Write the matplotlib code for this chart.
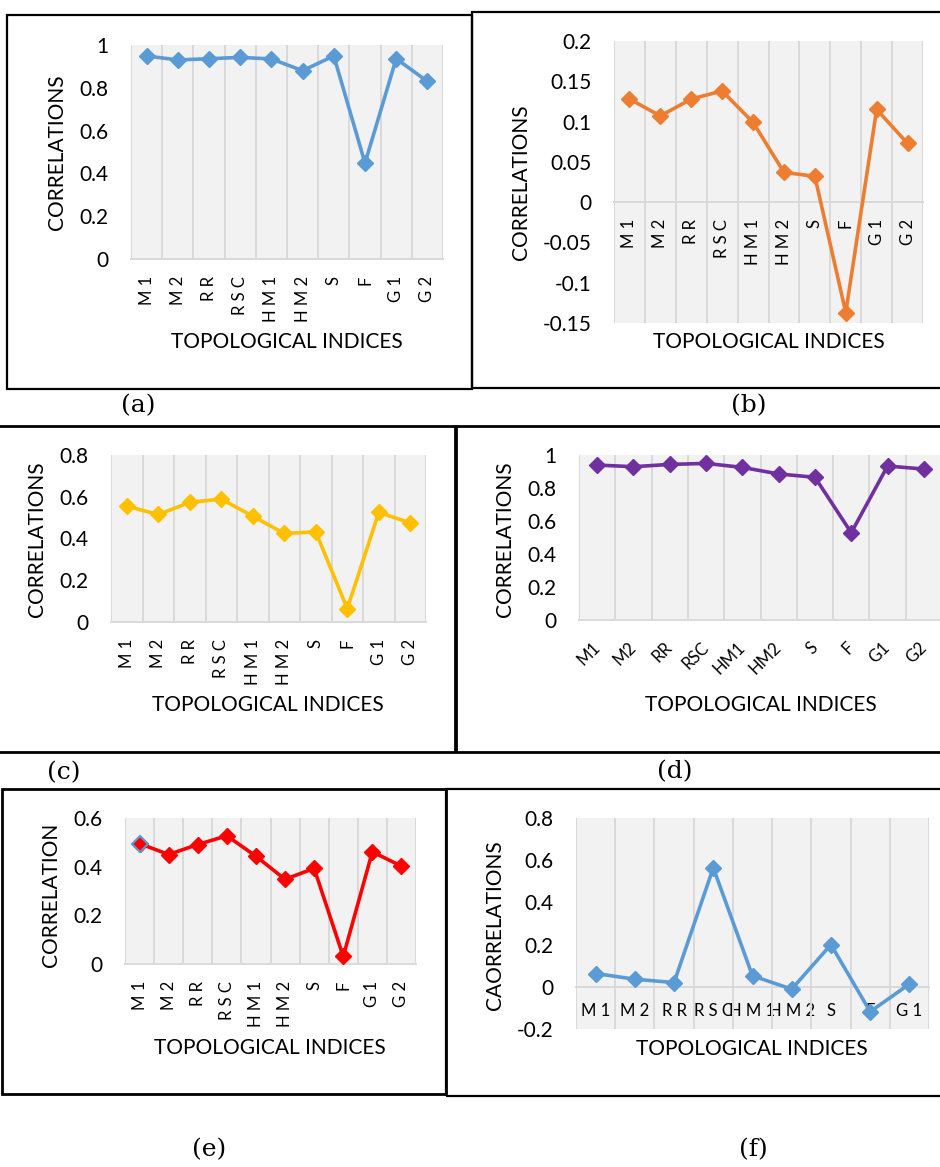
import numpy as np
import matplotlib
matplotlib.use("Agg")
import matplotlib.pyplot as plt
from matplotlib.patches import Rectangle

plt.rcParams['font.family'] = ['Lato', 'DejaVu Sans']

# ---------------- data ----------------
categories = ["M1", "M2", "RR", "RSC", "HM1", "HM2", "S", "F", "G1", "G2"]
categories_f = ["M1", "M2", "RR", "RSC", "HM1", "HM2", "S", "F", "G1"]

corr_a = [0.949, 0.930, 0.936, 0.942, 0.935, 0.880, 0.949, 0.448, 0.936, 0.830]
corr_b = [0.128, 0.107, 0.128, 0.138, 0.099, 0.037, 0.032, -0.137, 0.115, 0.073]
corr_c = [0.555, 0.515, 0.573, 0.589, 0.507, 0.424, 0.432, 0.064, 0.525, 0.475]
corr_d = [0.939, 0.929, 0.943, 0.949, 0.925, 0.885, 0.865, 0.529, 0.933, 0.915]
corr_e = [0.495, 0.450, 0.491, 0.527, 0.443, 0.348, 0.393, 0.031, 0.461, 0.402]
corr_f = [0.063, 0.036, 0.020, 0.564, 0.052, -0.011, 0.200, -0.118, 0.013]

ylabels = ["CORRELATIONS", "CORRELATIONS", "CORRELATIONS", "CORRELATIONS",
           "CORRELATION", "CAORRELATIONS"]
xlabel_text = "TOPOLOGICAL INDICES"
panel_tags = ["(a)", "(b)", "(c)", "(d)", "(e)", "(f)"]

W, H = 940, 1167
fig = plt.figure(figsize=(W / 100, H / 100), dpi=100)


def frect(x0, y0, x1, y1):
    return [x0 / W, 1 - y1 / H, (x1 - x0) / W, (y1 - y0) / H]


def box(x0, y0, x1, y1, lw=1.6):
    fig.add_artist(Rectangle((x0 / W, 1 - y1 / H), (x1 - x0) / W, (y1 - y0) / H,
                             transform=fig.transFigure, fill=False,
                             ec='black', lw=lw, zorder=0))


def spaced(s):
    return " ".join(list(s))


def fmt(v):
    v = round(v, 3) + 0.0
    return f"{v:g}"


def panel(plot_px, labels, values, color, ylim, step, rot, ylab, ylab_xy,
          xlab_xy, tag, tag_xy, xpad=12, edge_first=None):
    ax = fig.add_axes(frect(*plot_px))
    ax.set_facecolor('#F2F2F2')
    for s in ['top', 'right', 'left']:
        ax.spines[s].set_visible(False)
    ax.spines['bottom'].set_position(('data', 0))
    ax.spines['bottom'].set_color('#D9D9D9')
    ax.spines['bottom'].set_linewidth(1.4)
    n = len(values)
    x = np.arange(n)
    ax.plot(x, values, color=color, lw=2.6, marker='D', ms=8.5,
            zorder=3, clip_on=False)
    if edge_first is not None:
        ax.plot(x[:1], values[:1], ls='none', marker='D', ms=8.5,
                mfc=color, mec=edge_first, mew=1.5, zorder=4, clip_on=False)
    ax.set_xlim(-0.5, n - 0.5)
    ax.set_ylim(*ylim)
    yt = np.arange(ylim[0], ylim[1] + step / 2, step)
    ax.set_yticks(yt)
    ax.set_yticklabels([fmt(v) for v in yt])
    ax.set_xticks(np.arange(-0.5, n, 1), minor=True)
    ax.grid(which='minor', axis='x', color='#D9D9D9', lw=1.4, zorder=1)
    ax.set_axisbelow(True)
    ax.tick_params(which='both', length=0)
    ax.tick_params(axis='y', labelsize=15, pad=16)
    ax.tick_params(axis='x', pad=xpad)
    ax.set_xticks(x)
    if rot == 90:
        ax.set_xticklabels(labels, rotation=90, fontsize=12)
    elif rot == 45:
        ax.set_xticklabels(labels, rotation=45, fontsize=12, ha='right',
                           va='center', rotation_mode='anchor')
    else:
        ax.set_xticklabels(labels, rotation=0, fontsize=12)
    fig.text(ylab_xy[0] / W, 1 - ylab_xy[1] / H, ylab, rotation=90,
             ha='center', va='center', fontsize=15)
    fig.text(xlab_xy[0] / W, 1 - xlab_xy[1] / H, xlabel_text,
             ha='center', va='center', fontsize=15)
    fig.text(tag_xy[0] / W, 1 - tag_xy[1] / H, tag, ha='center', va='center',
             fontsize=18, family='DejaVu Serif')
    return ax


# boxes
box(7, 15, 472, 389)
box(472, 12, 950, 388)
box(-5, 426, 455, 752, lw=2.0)
box(456, 426, 950, 752, lw=2.0)
box(2, 789, 446, 1094, lw=2.0)
box(446, 789, 950, 1096)

lab10 = [spaced(c) for c in categories]
lab9 = [spaced(c) for c in categories_f]

panel((131, 45, 443, 259), lab10, corr_a, '#5B9BD5', (0, 1), 0.2, 90,
      ylabels[0], (57, 152), (287, 342), panel_tags[0], (138, 406))
panel((614, 41, 923, 323), lab10, corr_b, '#ED7D31', (-0.15, 0.2), 0.05, 90,
      ylabels[1], (521, 182), (769, 342), panel_tags[1], (749, 406))
panel((111, 455, 426, 622), lab10, corr_c, '#FFC000', (0, 0.8), 0.2, 90,
      ylabels[2], (37, 539), (268, 705), panel_tags[2], (64, 773))
panel((579, 455, 942, 620), categories, corr_d, '#7030A0', (0, 1), 0.2, 45,
      ylabels[3], (505, 539), (761, 705), panel_tags[3], (675, 772), xpad=18)
panel((125, 818, 416, 964), lab10, corr_e, '#FF0000', (0, 0.6), 0.2, 90,
      ylabels[4], (51, 895), (270, 1048), panel_tags[4], (209, 1150),
      edge_first='#5B9BD5')
panel((576, 818, 929, 1029), lab9, corr_f, '#5B9BD5', (-0.2, 0.8), 0.2, 0,
      ylabels[5], (495, 925), (752, 1049), panel_tags[5], (753, 1150), xpad=12)

fig.savefig("out.png", dpi=100)
